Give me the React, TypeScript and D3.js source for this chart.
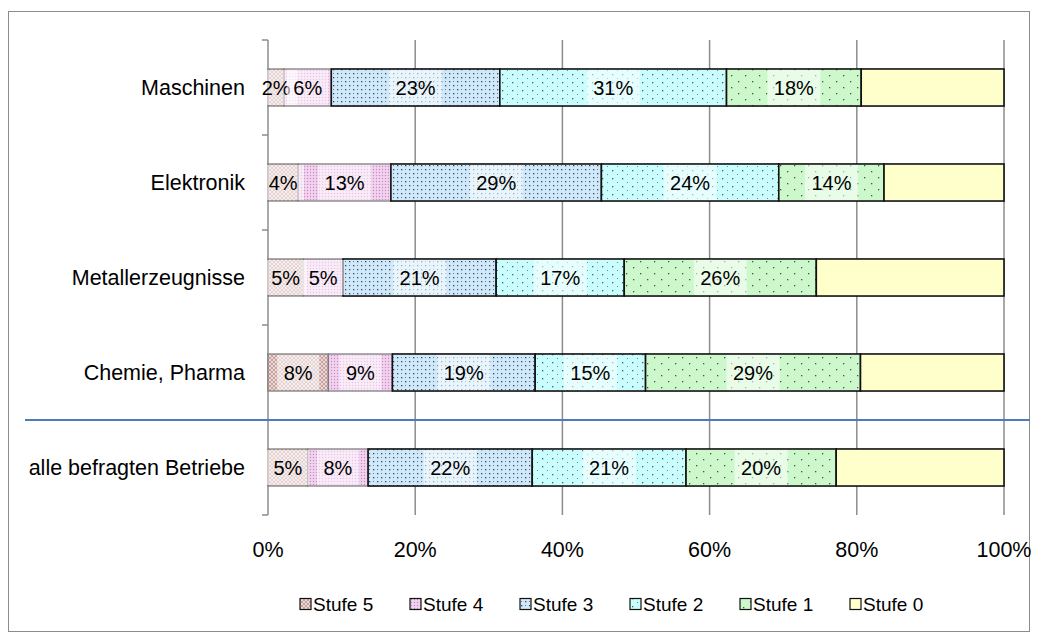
import React from "react";
import * as d3 from "d3";

// Branchen (top to bottom) and share of firms per Stufe, in percent
const categories = [
  "Maschinen",
  "Elektronik",
  "Metallerzeugnisse",
  "Chemie, Pharma",
  "alle befragten Betriebe",
];
const seriesNames = ["Stufe 5", "Stufe 4", "Stufe 3", "Stufe 2", "Stufe 1", "Stufe 0"];
const stufe5 = [2.2, 4.1, 4.8, 8.2, 5.4];
const stufe4 = [6.4, 12.6, 5.4, 8.7, 8.2];
const stufe3 = [22.9, 28.6, 20.8, 19.4, 22.3];
const stufe2 = [30.8, 24.1, 17.4, 15.0, 20.9];
const stufe1 = [18.3, 14.3, 26.1, 29.2, 20.4];
const stufe0 = [19.4, 16.3, 25.5, 19.5, 22.8];
const xTicks = [0, 20, 40, 60, 80, 100];

const seriesValues = [stufe5, stufe4, stufe3, stufe2, stufe1, stufe0];
const labelled = [true, true, true, true, true, false];

const W = 1037;
const H = 639;
const FONT = "'Liberation Sans', Arial, sans-serif";

const x = d3.scaleLinear().domain([0, 100]).range([268, 1004]);
const y = d3
  .scaleBand<string>()
  .domain(categories)
  .range([40, 515])
  .paddingInner(0.61)
  .paddingOuter(0.305);

const patternIds = ["p5", "p4", "p3", "p2", "p1", "p0"];

function Patterns() {
  return (
    <defs>
      {/* Stufe 5: rose with fine brown lattice */}
      <pattern id="p5" width="4" height="4" patternUnits="userSpaceOnUse">
        <rect width="4" height="4" fill="#eed8d6" />
        <path d="M0,0 L4,4 M4,0 L0,4" stroke="#b48a86" strokeWidth="0.7" />
      </pattern>
      {/* Stufe 4: violet-pink with small dots */}
      <pattern id="p4" width="3" height="3" patternUnits="userSpaceOnUse">
        <rect width="3" height="3" fill="#f3d2f0" />
        <circle cx="1.5" cy="1.5" r="0.7" fill="#c58ac0" />
      </pattern>
      {/* Stufe 3: light blue, dense dark dots */}
      <pattern id="p3" width="8" height="8" patternUnits="userSpaceOnUse">
        <rect width="8" height="8" fill="#cfe9fb" />
        <rect x="1" y="1" width="1.3" height="1.3" fill="#33475a" />
        <rect x="5" y="5" width="1.3" height="1.3" fill="#33475a" />
        <rect x="5" y="1" width="1" height="1" fill="#6a7d8c" />
        <rect x="1" y="5" width="1" height="1" fill="#6a7d8c" />
      </pattern>
      {/* Stufe 2: cyan, sparse dots */}
      <pattern id="p2" width="10" height="8" patternUnits="userSpaceOnUse">
        <rect width="10" height="8" fill="#cafdfd" />
        <rect x="2" y="2" width="1.3" height="1.3" fill="#44606a" />
        <rect x="7" y="6" width="1" height="1" fill="#6a8a90" />
      </pattern>
      {/* Stufe 1: light green, sparse dots */}
      <pattern id="p1" width="14" height="12" patternUnits="userSpaceOnUse">
        <rect width="14" height="12" fill="#ccf8cc" />
        <rect x="3" y="3" width="1.3" height="1.3" fill="#3d5a3d" />
        <rect x="10" y="9" width="1.3" height="1.3" fill="#3d5a3d" />
      </pattern>
      <pattern id="p0" width="4" height="4" patternUnits="userSpaceOnUse">
        <rect width="4" height="4" fill="#ffffcc" />
      </pattern>
    </defs>
  );
}

export default function App() {
  const stackData = categories.map((c, i) => {
    const row: Record<string, number | string> = { cat: c };
    seriesNames.forEach((s, k) => (row[s] = seriesValues[k][i]));
    return row;
  });
  const stack = d3.stack<any>().keys(seriesNames)(stackData);
  const bw = y.bandwidth();
  const legendX = d3.range(seriesNames.length).map((k) => 300 + k * 110);

  return (
    <svg
      width={W}
      height={H}
      style={{ position: "absolute", left: 0, top: 0, background: "#fff" }}
      fontFamily={FONT}
    >
      <Patterns />
      <rect x={8.5} y={11.5} width={1021} height={620} fill="#fff" stroke="#8c8c8c" strokeWidth={1} />

      {/* vertical gridlines */}
      {xTicks.slice(1).map((t) => (
        <line
          key={t}
          x1={x(t)}
          x2={x(t)}
          y1={40}
          y2={515}
          stroke="#8c8c8c"
          strokeWidth={1.5}
        />
      ))}
      {/* category axis */}
      <line x1={x(0)} x2={x(0)} y1={40} y2={515} stroke="#8c8c8c" strokeWidth={1.5} />
      {d3.range(categories.length + 1).map((i) => {
        const yy = 40 + i * y.step();
        return <line key={i} x1={262} x2={x(0)} y1={yy} y2={yy} stroke="#8c8c8c" strokeWidth={1.5} />;
      })}

      {/* bars */}
      {stack.map((layer, k) =>
        layer.map((d, i) => {
          const c = categories[i];
          const x0 = x(d[0]);
          const x1 = x(d[1]);
          return (
            <rect
              key={`${k}-${i}`}
              x={x0}
              y={y(c)!}
              width={x1 - x0}
              height={bw}
              fill={`url(#${patternIds[k]})`}
              stroke={k < 2 ? "#7a7a7a" : "#111"}
              strokeWidth={k < 2 ? 1.2 : 1.6}
            />
          );
        })
      )}

      {/* value labels */}
      {stack.map((layer, k) =>
        labelled[k]
          ? layer.map((d, i) => {
              const c = categories[i];
              const v = seriesValues[k][i];
              const cx = (x(d[0]) + x(d[1])) / 2;
              const text = `${Math.round(v)}%`;
              const tw = text.length * 11;
              return (
                <g key={`l${k}-${i}`}>
                  <rect
                    x={cx - tw / 2 - 10}
                    y={y(c)! + 1}
                    width={tw + 20}
                    height={bw - 2}
                    fill="#fff"
                    opacity={0.55}
                  />
                  <text
                    x={cx}
                    y={y(c)! + bw / 2}
                    dy="0.36em"
                    textAnchor="middle"
                    fontSize={20}
                    fill="#000"
                  >
                    {text}
                  </text>
                </g>
              );
            })
          : null
      )}

      {/* category labels */}
      {categories.map((c) => (
        <text
          key={c}
          x={245}
          y={y(c)! + bw / 2}
          dy="0.36em"
          textAnchor="end"
          fontSize={21.5}
          fill="#000"
        >
          {c}
        </text>
      ))}

      {/* x tick labels */}
      {xTicks.map((t) => (
        <text key={t} x={x(t)} y={549} dy="0.36em" textAnchor="middle" fontSize={21.5} fill="#000">
          {`${t}%`}
        </text>
      ))}

      {/* separator between branches and the total */}
      <line x1={25} x2={1030} y1={420} y2={420} stroke="#4a7ebb" strokeWidth={2.2} />

      {/* legend */}
      {seriesNames.map((s, k) => (
        <g key={s} transform={`translate(${legendX[k]},604)`}>
          <rect x={0} y={-5.5} width={11} height={11} fill={`url(#${patternIds[k]})`} stroke="#111" strokeWidth={1.2} />
          <text x={13} y={0} dy="0.36em" fontSize={19} fill="#000">
            {s}
          </text>
        </g>
      ))}
    </svg>
  );
}
